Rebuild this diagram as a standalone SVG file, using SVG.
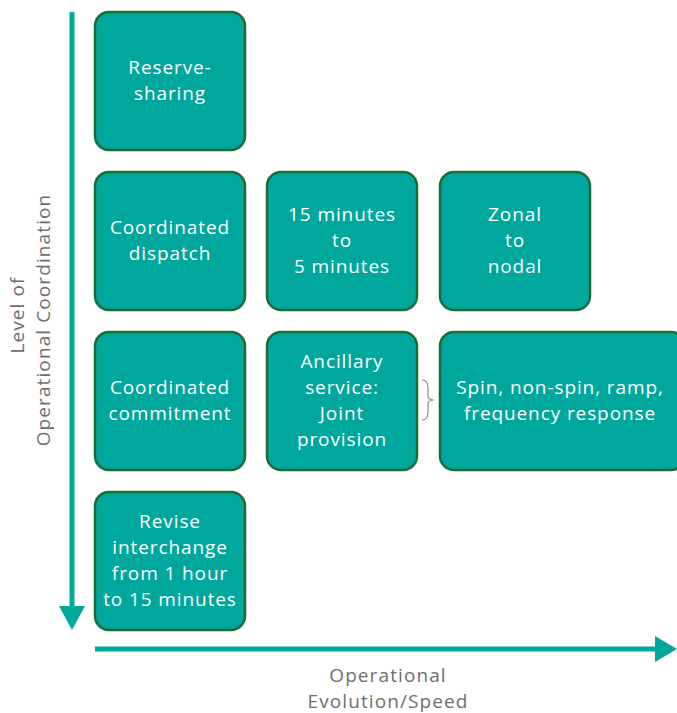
<svg xmlns="http://www.w3.org/2000/svg" width="677" height="713" viewBox="0 0 677 713">
<style>
.box{fill:#00a79d;stroke:#1b6b3b;stroke-width:2.5}
.t{font-family:"Open Sans","Liberation Sans",sans-serif;font-size:19px;font-weight:500;letter-spacing:0.9px;fill:#ffffff;text-anchor:middle}
.lbl{font-family:"Open Sans","Liberation Sans",sans-serif;font-size:19px;font-weight:500;letter-spacing:1.1px;fill:#6d6e71;text-anchor:middle}
.ax{stroke:#00a79d;stroke-width:5;fill:none}
</style>
<rect width="677" height="713" fill="#ffffff"/>
<g id="connectors">
<line class="ax" x1="72" y1="12" x2="72" y2="608"/>
<polygon points="59,606 85,606 72,630" fill="#00a79d"/>
<line class="ax" x1="95" y1="649" x2="657" y2="649"/>
<polygon points="655,636 655,662 677,649" fill="#00a79d"/>
<path d="M422,380 Q428,380 428,388 L428,396 Q428,400 434,400 Q428,400 428,404 L428,412 Q428,420 422,420" fill="none" stroke="#8a8a8a" stroke-width="1.2"/>
</g>
<g id="n-reserve">
<rect class="box" x="95" y="12" width="150" height="138" rx="14"/>
<text class="t" x="170" y="74">Reserve-</text>
<text class="t" x="170" y="100">sharing</text>
</g>
<g id="n-dispatch">
<rect class="box" x="95" y="172" width="150" height="138" rx="14"/>
<text class="t" x="170" y="234">Coordinated</text>
<text class="t" x="170" y="260">dispatch</text>
</g>
<g id="n-15min">
<rect class="box" x="267" y="172" width="150" height="138" rx="14"/>
<text class="t" x="342" y="221">15 minutes</text>
<text class="t" x="342" y="247">to</text>
<text class="t" x="342" y="273">5 minutes</text>
</g>
<g id="n-zonal">
<rect class="box" x="440" y="172" width="150" height="138" rx="14"/>
<text class="t" x="515" y="221">Zonal</text>
<text class="t" x="515" y="247">to</text>
<text class="t" x="515" y="273">nodal</text>
</g>
<g id="n-commitment">
<rect class="box" x="95" y="332" width="150" height="138" rx="14"/>
<text class="t" x="170" y="394">Coordinated</text>
<text class="t" x="170" y="420">commitment</text>
</g>
<g id="n-ancillary">
<rect class="box" x="267" y="332" width="150" height="138" rx="14"/>
<text class="t" x="342" y="368">Ancillary</text>
<text class="t" x="342" y="394">service:</text>
<text class="t" x="342" y="420">Joint</text>
<text class="t" x="342" y="446">provision</text>
</g>
<g id="n-spin">
<rect class="box" x="440" y="332" width="245" height="138" rx="14"/>
<text class="t" x="560" y="394">Spin, non-spin, ramp,</text>
<text class="t" x="560" y="420">frequency response</text>
</g>
<g id="n-revise">
<rect class="box" x="95" y="492" width="150" height="138" rx="14"/>
<text class="t" x="170" y="528">Revise</text>
<text class="t" x="170" y="554">interchange</text>
<text class="t" x="170" y="580">from 1 hour</text>
<text class="t" x="170" y="606">to 15 minutes</text>
</g>
<g id="y-label">
<text class="lbl" transform="translate(24,315) rotate(-90)">Level of</text>
<text class="lbl" transform="translate(50,320) rotate(-90)">Operational Coordination</text>
</g>
<g id="x-label">
<text class="lbl" x="388" y="682">Operational</text>
<text class="lbl" x="388" y="708">Evolution/Speed</text>
</g>
</svg>
